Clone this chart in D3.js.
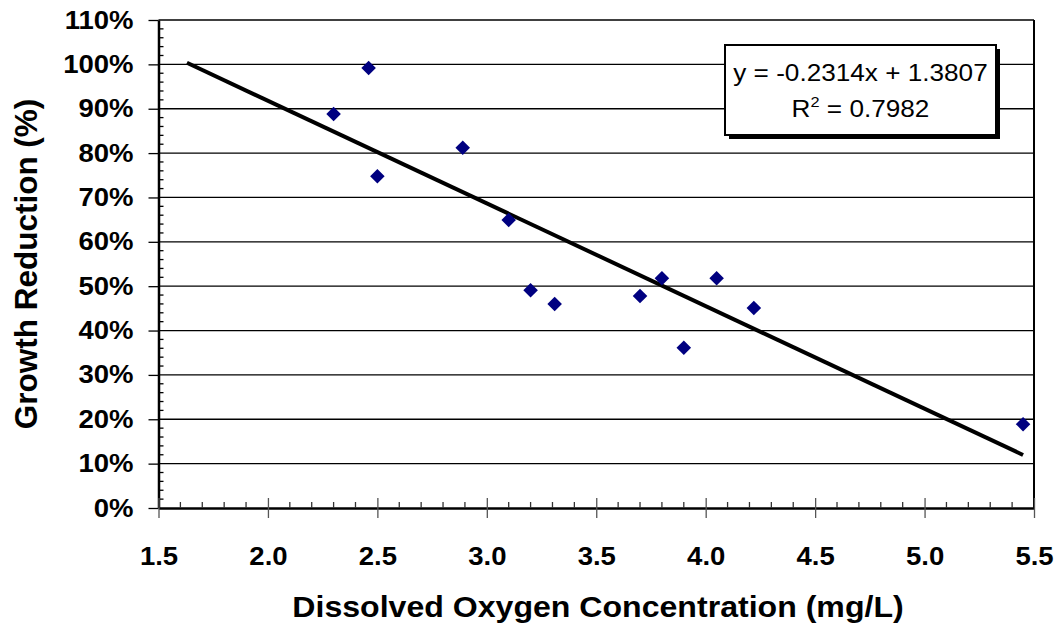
<!DOCTYPE html>
<html><head><meta charset="utf-8">
<script src="https://cdn.jsdelivr.net/npm/d3@7"></script>
<style>body{margin:0;background:#fff}svg{display:block}</style>
</head><body><svg id="c" width="1060" height="625"></svg>
<script>
const doValues = [2.30, 2.46, 2.50, 2.89, 3.10, 3.20, 3.31, 3.70, 3.80, 3.90, 4.05, 4.22, 5.45];
const growthReduction = [0.888, 0.992, 0.748, 0.812, 0.649, 0.491, 0.460, 0.478, 0.518, 0.361, 0.518, 0.451, 0.189];
const trendSlope = -0.2314, trendIntercept = 1.3807, rSquared = 0.7982;
const trendXExtent = [1.63, 5.45];
const xTicks = [1.5, 2.0, 2.5, 3.0, 3.5, 4.0, 4.5, 5.0, 5.5];
const yTicks = [0, 0.1, 0.2, 0.3, 0.4, 0.5, 0.6, 0.7, 0.8, 0.9, 1.0, 1.1];

const svg = d3.select("#c");
const L = 158.5, R = 1034, T = 20, B = 508;
const x = d3.scaleLinear().domain([1.5, 5.5]).range([L, R]);
const y = d3.scaleLinear().domain([0, 1.1]).range([B, T]);
const font = "Liberation Sans, Arial, sans-serif";
const SX = 1.1;

// gridlines
svg.append("g").selectAll("line").data(yTicks.filter(d => d > 0)).join("line")
  .attr("x1", L).attr("x2", R).attr("y1", d => y(d)).attr("y2", d => y(d))
  .attr("stroke", "#000").attr("stroke-width", 1.3);

// plot frame right
svg.append("line").attr("x1", R).attr("x2", R).attr("y1", T).attr("y2", B).attr("stroke", "#000").attr("stroke-width", 2);

// y axis
const yAx = svg.append("g").attr("transform", `translate(${L},0)`)
  .call(d3.axisLeft(y).tickValues(yTicks).tickFormat(d3.format(".0%")).tickSize(10).tickSizeOuter(0));
yAx.select(".domain").attr("stroke-width", 2.5);
yAx.selectAll(".tick line").attr("stroke-width", 1.3);
yAx.selectAll(".tick text").attr("x", -25 / SX).attr("transform", `scale(${SX},1)`)
  .attr("font-family", font).attr("font-size", 25).attr("font-weight", "bold").attr("fill", "#000");
// y minor ticks
const yMinor = d3.range(0, 1.1001, 0.02).filter(v => Math.abs(v * 10 - Math.round(v * 10)) > 1e-6);
svg.append("g").selectAll("line").data(yMinor).join("line")
  .attr("x1", L).attr("x2", L + 5).attr("y1", d => y(d)).attr("y2", d => y(d)).attr("stroke", "#000").attr("stroke-width", 1.3);

// x axis
const xAx = svg.append("g").attr("transform", `translate(0,${B})`)
  .call(d3.axisBottom(x).tickValues(xTicks).tickFormat(d3.format(".1f")).tickSizeOuter(0));
xAx.select(".domain").attr("stroke-width", 2.5);
xAx.selectAll(".tick line").attr("y1", -10).attr("y2", 10).attr("stroke", "#555").attr("stroke-width", 1.3);
xAx.selectAll(".tick text").attr("y", 39).attr("transform", `scale(${SX},1)`)
  .attr("font-family", font).attr("font-size", 25).attr("font-weight", "bold").attr("fill", "#000");
const xMinor = d3.range(1.5, 5.5001, 0.1).filter(v => Math.abs(v * 2 - Math.round(v * 2)) > 1e-6);
svg.append("g").selectAll("line").data(xMinor).join("line")
  .attr("x1", d => x(d)).attr("x2", d => x(d)).attr("y1", B).attr("y2", B - 6).attr("stroke", "#333").attr("stroke-width", 1.3);

// trendline
svg.append("line")
  .attr("x1", x(trendXExtent[0])).attr("y1", y(trendSlope * trendXExtent[0] + trendIntercept))
  .attr("x2", x(trendXExtent[1])).attr("y2", y(trendSlope * trendXExtent[1] + trendIntercept))
  .attr("stroke", "#000").attr("stroke-width", 4);

// points
const pts = doValues.map((d, i) => [d, growthReduction[i]]);
svg.append("g").selectAll("path").data(pts).join("path")
  .attr("d", d3.symbol(d3.symbolDiamond2, 135)())
  .attr("transform", d => `translate(${x(d[0])},${y(d[1])})`)
  .attr("fill", "#000080");

// equation box
const bx = 725, by = 45, bw = 271, bh = 90;
svg.append("rect").attr("x", bx + 4).attr("y", by + 4).attr("width", bw).attr("height", bh).attr("fill", "#000");
svg.append("rect").attr("x", bx).attr("y", by).attr("width", bw).attr("height", bh).attr("fill", "#fff").attr("stroke", "#000").attr("stroke-width", 2);
const cx = bx + bw / 2, ES = 1.09;
svg.append("text").attr("x", cx / ES).attr("y", by + 36).attr("text-anchor", "middle")
  .attr("transform", `scale(${ES},1)`)
  .attr("font-family", font).attr("font-size", 24)
  .text(`y = ${trendSlope}x + ${trendIntercept}`);
const t2 = svg.append("text").attr("x", cx / ES).attr("y", by + 72).attr("text-anchor", "middle")
  .attr("transform", `scale(${ES},1)`)
  .attr("font-family", font).attr("font-size", 24);
t2.append("tspan").text("R");
t2.append("tspan").attr("font-size", 15).attr("dy", -10).text("2");
t2.append("tspan").attr("dy", 10).text(` = ${rSquared}`);

// axis titles
svg.append("text").attr("x", 598 / 1.07).attr("y", 617).attr("text-anchor", "middle")
  .attr("transform", "scale(1.07,1)")
  .attr("font-family", font).attr("font-size", 30).attr("font-weight", "bold")
  .text("Dissolved Oxygen Concentration (mg/L)");
svg.append("text").attr("transform", `translate(37,${(T + B) / 2}) rotate(-90)`).attr("text-anchor", "middle")
  .attr("font-family", font).attr("font-size", 31.5).attr("font-weight", "bold")
  .text("Growth Reduction (%)");
</script></body></html>
